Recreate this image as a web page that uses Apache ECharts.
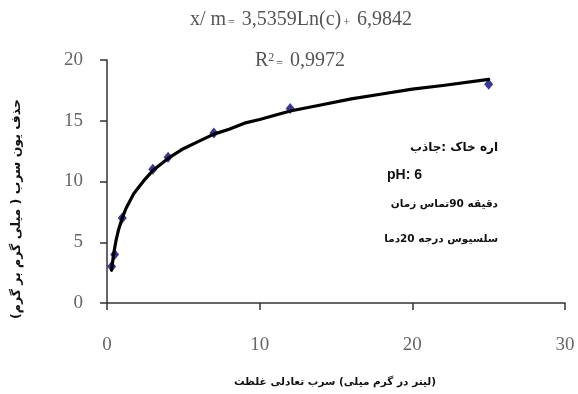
<!DOCTYPE html>
<html>
<head>
<meta charset="utf-8">
<script src="https://cdn.jsdelivr.net/npm/echarts@6/dist/echarts.min.js"></script>
<style>
html,body{margin:0;padding:0;background:#fff;}
#chart{width:578px;height:394px;}
</style>
</head>
<body>
<div id="chart"></div>
<script>
// Measured data points (equilibrium concentration, removal)
const concentration = [0.3, 0.5, 1, 3, 4, 7, 12, 25];
const removal = [3, 4, 7, 11, 12, 14, 16, 18];

// Trend curve
const trendX = [0.3, 0.4, 0.5, 0.6, 0.75, 1, 1.25, 1.5, 1.75, 2, 2.5, 3, 3.5, 4, 5, 6, 7, 8, 9, 10, 12, 14, 16, 18, 20, 22, 25];
const trendY = [2.7, 3.7, 4.5, 5.2, 6.0, 7.0, 7.8, 8.4, 9.0, 9.4, 10.2, 10.9, 11.4, 11.9, 12.7, 13.3, 13.9, 14.3, 14.8, 15.1, 15.8, 16.3, 16.8, 17.2, 17.6, 17.9, 18.4];

const equationParts = ['x/ m', '=', ' 3,5359Ln(c)', '+', ' 6,9842'];
const r2Parts = ['R', '2', '=', ' 0,9972'];
const xTitleWords = ['غلظت', ' ', 'تعادلی', ' ', 'سرب', ' ', '(میلی', ' ', 'گرم', ' ', 'در', ' ', 'لیتر)'];
const yTitle = 'حذف یون سرب ( میلی گرم بر گرم)';
const noteAdsorbent = ['جاذب:', ' ', 'خاک', ' ', 'اره'];
const notePH = 'pH: 6';
const noteTime = ['زمان', ' ', 'تماس', '90', ' ', 'دقیقه'];
const noteTemp = ['دما', '20', ' ', 'درجه', ' ', 'سلسیوس'];

const serif = '"Liberation Serif", "DejaVu Serif", serif';
const arab = '"DejaVu Sans", sans-serif';

// lay words out left to right, each as its own token
function tokens(words) {
  return words.map(w => w === ' ' ? '{s| }' : '{w|' + w + '}').join('');
}

function richText(x, y, words, size, align) {
  return {
    type: 'text', x: x, y: y, z: 100,
    style: {
      text: tokens(words),
      font: 'bold ' + size + 'px ' + arab,
      fill: '#111',
      align: align, verticalAlign: 'middle',
      textAlign: align, textVerticalAlign: 'middle',
      rich: {
        w: { fontFamily: arab, fontWeight: 'bold', fontSize: size, fill: '#111', color: '#111' },
        s: { fontFamily: arab, fontWeight: 'bold', fontSize: size, fill: '#111', color: '#111' }
      }
    }
  };
}

function txt(x, y, text, font, align, fill, rot) {
  return {
    type: 'text', x: x, y: y, rotation: rot || 0, z: 100,
    style: {
      text: text, font: font, fill: fill || '#000',
      align: align || 'center', verticalAlign: 'middle',
      textAlign: align || 'center', textVerticalAlign: 'middle'
    }
  };
}

function formula(x, y, text) {
  return {
    type: 'text', x: x, y: y, z: 100,
    style: {
      text: text,
      font: '20px ' + serif, fill: '#555',
      align: 'center', verticalAlign: 'middle',
      textAlign: 'center', textVerticalAlign: 'middle',
      rich: {
        n: { fontFamily: serif, fontSize: 20, fill: '#555', color: '#555' },
        o: { fontFamily: serif, fontSize: 12, fill: '#555', color: '#555', padding: [6, 2, 0, 2] },
        p: { fontFamily: serif, fontSize: 12, fill: '#555', color: '#555', padding: [0, 0, 7, 0] }
      }
    }
  };
}

const eqText = '{n|' + equationParts[0] + '}{o|' + equationParts[1] + '}{n|' + equationParts[2] + '}{o|' + equationParts[3] + '}{n|' + equationParts[4] + '}';
const r2Text = '{n|' + r2Parts[0] + '}{p|' + r2Parts[1] + '}{o|' + r2Parts[2] + '}{n|' + r2Parts[3] + '}';

const chart = echarts.init(document.getElementById('chart'));

chart.setOption({
  animation: false,
  backgroundColor: '#fff',
  grid: { left: 107, right: 13, top: 60, bottom: 91 },
  xAxis: {
    type: 'value', min: 0, max: 30, interval: 10,
    axisLine: { show: true, onZero: false, lineStyle: { color: '#333', width: 1.5 } },
    axisTick: { show: true, inside: false, length: 7, lineStyle: { color: '#333', width: 1.5 } },
    splitLine: { show: false },
    axisLabel: { margin: 33, color: '#666', fontFamily: serif, fontSize: 19 }
  },
  yAxis: {
    type: 'value', min: 0, max: 20, interval: 5,
    axisLine: { show: true, lineStyle: { color: '#333', width: 1.5 } },
    axisTick: { show: true, inside: false, length: 7, lineStyle: { color: '#333', width: 1.5 } },
    splitLine: { show: false },
    axisLabel: { margin: 24, color: '#666', fontFamily: serif, fontSize: 19 }
  },
  series: [
    {
      type: 'scatter',
      data: concentration.map((c, i) => [c, removal[i]]),
      symbol: 'diamond', symbolSize: [9, 11],
      itemStyle: { color: '#08087a' },
      z: 2
    },
    {
      type: 'line',
      data: trendX.map((c, i) => [c, trendY[i]]),
      smooth: false,
      showSymbol: false, symbol: 'none',
      lineStyle: { color: '#000', width: 3.2, join: 'round', cap: 'round' },
      z: 3
    }
  ],
  graphic: [
    formula(301, 20, eqText),
    formula(300, 61, r2Text),
    richText(335, 382, xTitleWords, 10.5, 'center'),
    txt(17, 209, yTitle, 'bold 12.5px ' + arab, 'center', '#111', Math.PI / 2),
    richText(498, 148, noteAdsorbent, 12, 'right'),
    txt(387, 175, notePH, 'bold 14px "Liberation Sans", Arial, sans-serif', 'left', '#111'),
    richText(498, 204, noteTime, 10.5, 'right'),
    richText(498, 239, noteTemp, 10.5, 'right')
  ]
});
</script>
</body>
</html>
